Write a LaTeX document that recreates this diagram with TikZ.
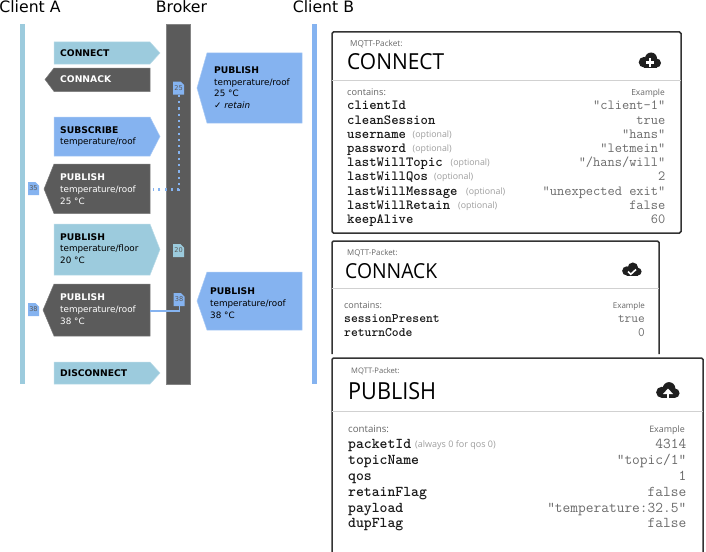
\documentclass[tikz,border=0pt]{standalone}
\usepackage{graphicx}
\usepackage{fontspec}
\setmainfont{DejaVu Sans}
\newfontfamily\cardfont{Open Sans}
\definecolor{lblue}{HTML}{9CCBDD}
\definecolor{mblue}{HTML}{85B3F0}
\definecolor{dgrey}{HTML}{5B5B5B}
\definecolor{frame}{HTML}{333333}
\newcommand{\msgbf}[1]{{\fontsize{9.2}{11.7}\selectfont\textbf{#1}}}
\tikzset{
  x=1pt,y=-1pt,
  msgL/.style={fill=lblue,draw=lblue!70!white,line width=.5pt},
  msgB/.style={fill=mblue,draw=mblue!70!white,line width=.5pt},
  msgD/.style={fill=dgrey,draw=dgrey!80!white,line width=.5pt},
  msgtxt/.style={anchor=west,inner sep=0pt,align=left,text=black,font=\fontsize{8.8}{11.7}\selectfont},
  msgwht/.style={msgtxt,text=white},
  head/.style={anchor=base,inner sep=0pt,font=\fontsize{15.7}{16}\selectfont},
  marker/.style={inner sep=0pt,minimum width=11pt,minimum height=13pt,text=dgrey,font=\fontsize{6.6}{7}\selectfont},
  card/.style={draw=frame,line width=1.5pt,fill=white,rounded corners=1.5pt},
  divider/.style={draw=black!18,line width=.8pt},
  small/.style={anchor=base west,inner sep=0pt,text=black!60,font=\cardfont\fontsize{8.2}{9}\selectfont},
  containsl/.style={small,font=\cardfont\fontsize{9.2}{10}\selectfont},
  smallr/.style={small,anchor=base east,font=\cardfont\fontsize{8.4}{9}\selectfont},
  opt/.style={small,text=black!38,font=\cardfont\fontsize{8.8}{9}\selectfont},
  ttl/.style={anchor=base west,inner sep=0pt,text=black,font=\cardfont},
  key/.style={anchor=base west,inner sep=0pt,text=black!90,font=\ttfamily\bfseries\fontsize{#1}{#1}\selectfont},
  key/.default=14,
  val/.style={anchor=base east,inner sep=0pt,text=black!58,font=\ttfamily\fontsize{#1}{#1}\selectfont},
  val/.default=14,
  cloudicon/.pic={
    \fill[black!88] (-6,2.2) circle (5.3);
    \fill[black!88] (1,-1.5) circle (6);
    \fill[black!88] (6.5,3) circle (4.5);
    \fill[black!88] (-6,2) rectangle (6.5,7.5);
  }
}
\newcommand{\docshape}[3]{% x y colour
  \fill[#3] (#1,#2) -- ++(7.5,0) -- ++(3.5,3.5) -- ++(0,9.5) -- ++(-11,0) -- cycle;}
\begin{document}
\begin{tikzpicture}
\useasboundingbox (0,0) rectangle (706,551);
% headers
\node[head] (hA) at (30,12.5) {Client A};
\node[head] (hBr) at (181.5,12.5) {Broker};
\node[head] (hB) at (323.5,12.5) {Client B};
% lifelines
\fill[lblue] (20,24) rectangle (25,384);
\path[fill=dgrey,draw=dgrey!75!white,line width=.6pt] (166.5,24) rectangle (190.5,384);
\fill[mblue] (312,24) rectangle (317,384);
% messages
\path[msgL] (54,42) -- (150,42) -- (160,53) -- (150,64) -- (54,64) -- cycle;
\node[msgtxt] (m1) at (60,53) {\msgbf{CONNECT}};
\path[msgD] (45,79.5) -- (54,68) -- (150,68) -- (150,91.5) -- (54,91.5) -- cycle;
\node[msgwht] (m2) at (60,79) {\msgbf{CONNACK}};
\path[msgB] (197,88) -- (207,53) -- (302,53) -- (302,123) -- (207,123) -- cycle;
\node[msgtxt] (m3) at (214,87.5) {\msgbf{PUBLISH}\\temperature/roof\\25 °C\\\textit{✓ retain}};
\path[msgB] (54,117) -- (150,117) -- (160,136.5) -- (150,156) -- (54,156) -- cycle;
\node[msgtxt] (m4) at (60,136.5) {\msgbf{SUBSCRIBE}\\temperature/roof};
\path[msgD] (44,189) -- (54,164) -- (150,164) -- (150,213.5) -- (54,213.5) -- cycle;
\node[msgwht] (m5) at (60,189) {\msgbf{PUBLISH}\\temperature/roof\\25 °C};
\path[msgL] (54,224) -- (150,224) -- (160,249.5) -- (150,275) -- (54,275) -- cycle;
\node[msgtxt] (m6) at (60,248.5) {\msgbf{PUBLISH}\\temperature/floor\\20 °C};
\path[msgD] (43,310) -- (54,284) -- (150,284) -- (150,336) -- (54,336) -- cycle;
\node[msgwht] (m7) at (60,309) {\msgbf{PUBLISH}\\temperature/roof\\38 °C};
\path[msgB] (197,301) -- (207,272) -- (302,272) -- (302,330) -- (207,330) -- cycle;
\node[msgtxt] (m8) at (210,303) {\msgbf{PUBLISH}\\temperature/roof\\38 °C};
\path[msgL] (54,362) -- (150,362) -- (160,373) -- (150,384) -- (54,384) -- cycle;
\node[msgtxt] (m9) at (60,373) {\msgbf{DISCONNECT}};
% markers
\docshape{173}{81.5}{mblue}
\docshape{28}{182}{mblue}
\docshape{173}{244}{lblue}
\docshape{173.5}{293}{mblue}
\docshape{28}{303}{mblue}
\node[marker] (t25) at (178.5,88) {25};
\node[marker] (t35) at (33.5,188.5) {35};
\node[marker] (t20) at (178.5,250.5) {20};
\node[marker] (t38) at (179,299.5) {38};
\node[marker] (t38b) at (33.5,309.5) {38};
\coordinate (dotend) at (153,189.5);
\coordinate (solidend) at (150,311);
\draw[mblue,line width=2.2pt,dash pattern=on 2.2pt off 4.1pt] (t25.south) ++(0.5,0) |- (dotend);
\draw[mblue,line width=1.8pt] (t38.south) ++(0.5,0) |- (solidend);
% CONNECT card
\draw[card] (332,32) rectangle (681,233);
\draw[divider] (332,80) -- (681,80);
\node[small] (c0) at (350,47) {MQTT-Packet:};
\node[ttl] (c1) at (347,70) {\resizebox{97pt}{16pt}{CONNECT}};
\pic at (650,60) {cloudicon};
\node[fill=white,inner sep=0pt,minimum width=8pt,minimum height=2.4pt] (c1i) at (650,62.5) {};
\node[fill=white,inner sep=0pt,minimum width=2.4pt,minimum height=8pt] (c1j) at (650,62.5) {};
\node[containsl] (c2) at (347,95) {contains:};
\node[smallr] (c3) at (665,95) {Example};
\node[key] (k1) at (347,109) {clientId};
\node[key] (k2) at (347,124) {cleanSession};
\node[key] (k3) at (347,138) {username};
\node[key] (k4) at (347,152) {password};
\node[key] (k5) at (347,166) {lastWillTopic};
\node[key] (k6) at (347,180) {lastWillQos};
\node[key] (k7) at (347,195) {lastWillMessage};
\node[key] (k8) at (347,209) {lastWillRetain};
\node[key] (k9) at (347,223) {keepAlive};
\node[opt] (o3) at (412.5,137) {(optional)};
\node[opt] (o4) at (412.5,151) {(optional)};
\node[opt] (o5) at (450.5,165) {(optional)};
\node[opt] (o6) at (434,179) {(optional)};
\node[opt] (o7) at (466,194) {(optional)};
\node[opt] (o8) at (458,208) {(optional)};
\node[val] (v1) at (665.5,109) {“client-1“};
\node[val] (v2) at (665.5,124) {true};
\node[val] (v3) at (665.5,138) {“hans“};
\node[val] (v4) at (665.5,152) {“letmein“};
\node[val] (v5) at (665.5,166) {“/hans/will“};
\node[val] (v6) at (665.5,180) {2};
\node[val] (v7) at (665.5,195) {“unexpected exit“};
\node[val] (v8) at (665.5,209) {false};
\node[val] (v9) at (665.5,223) {60};
% CONNACK card
\fill[white] (332,241) rectangle (659,356);
\draw[frame,line width=1.5pt,rounded corners=1.5pt] (332,354) -- (332,241) -- (659,241) -- (659,354);
\draw[divider] (332,288.5) -- (659,288.5);
\node[small,font=\cardfont\fontsize{7.9}{9}\selectfont] (d0) at (347,255) {MQTT-Packet:};
\node[ttl] (d1) at (345,278) {\resizebox{92pt}{15pt}{CONNACK}};
\pic[scale=.87] at (632,269) {cloudicon};
\draw[white,line width=1.6pt] (628,271.5) -- (630.8,274.2) -- (636,269.5) coordinate (d1c);
\node[containsl,font=\cardfont\fontsize{9}{10}\selectfont] (d2) at (344,308) {contains:};
\node[smallr,font=\cardfont\fontsize{8}{9}\selectfont] (d3) at (645,308) {Example};
\node[key=13] (dk1) at (344,322) {sessionPresent};
\node[key=13] (dk2) at (344,336) {returnCode};
\node[val=13] (dv1) at (645,322) {true};
\node[val=13] (dv2) at (645,336) {0};
% PUBLISH card
\fill[white] (332,358) rectangle (703,551);
\draw[frame,line width=1.5pt,rounded corners=1.5pt] (332,552) -- (332,358) -- (703,358) -- (703,552);
\draw[divider] (332,411) -- (703,411);
\node[small,font=\cardfont\fontsize{7.6}{9}\selectfont] (p0) at (351,373) {MQTT-Packet:};
\node[ttl] (p1) at (348,399) {\resizebox{88pt}{17pt}{PUBLISH}};
\pic[scale=1.05] at (668,390) {cloudicon};
\draw[white,line width=2.2pt] (668,399) -- (668,393);
\fill[white] (668,388.5) -- (673,394) -- (663,394) -- cycle;
\node[containsl,font=\cardfont\fontsize{9.7}{10}\selectfont] (p2) at (348,432) {contains:};
\node[smallr,font=\cardfont\fontsize{8.9}{9}\selectfont] (p3) at (685,432) {Example};
\node[key=15] (pk1) at (348,448) {packetId};
\node[key=15] (pk2) at (348,464) {topicName};
\node[key=15] (pk3) at (348,480) {qos};
\node[key=15] (pk4) at (348,496) {retainFlag};
\node[key=15] (pk5) at (348,512) {payload};
\node[key=15] (pk6) at (348,527) {dupFlag};
\node[opt,font=\cardfont\fontsize{9}{9}\selectfont] (po1) at (415,447) {(always 0 for qos 0)};
\node[val=15] (pv1) at (686.5,448) {4314};
\node[val=15] (pv2) at (686.5,464) {“topic/1“};
\node[val=15] (pv3) at (686.5,480) {1};
\node[val=15] (pv4) at (686.5,496) {false};
\node[val=15] (pv5) at (686.5,512) {“temperature:32.5“};
\node[val=15] (pv6) at (686.5,527) {false};
\end{tikzpicture}
\end{document}
